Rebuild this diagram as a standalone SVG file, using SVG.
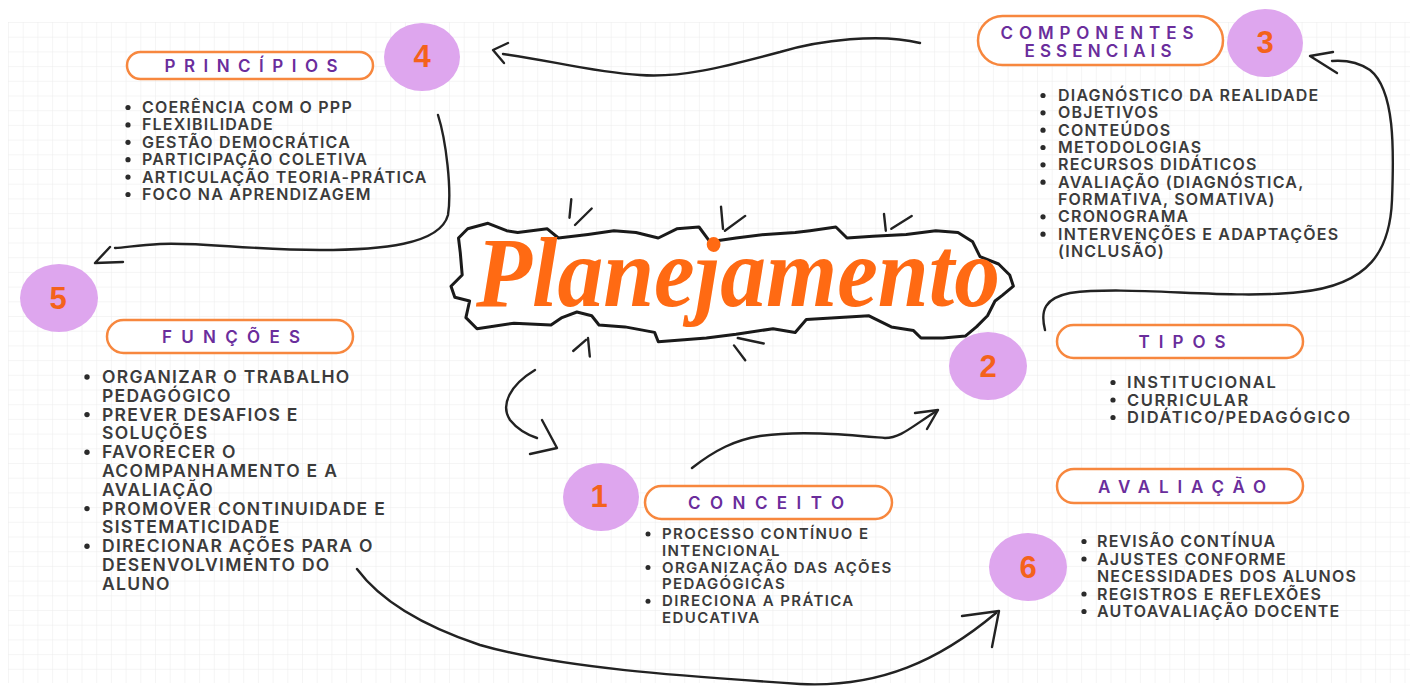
<svg xmlns="http://www.w3.org/2000/svg" width="1421" height="691" viewBox="0 0 1421 691">
<style>
.num{font-family:"Liberation Sans",Arial,sans-serif;font-size:31px;font-weight:bold;fill:#f4621b;text-anchor:middle}
.pill{fill:#fff;stroke:#f7873e;stroke-width:2.5}
.head{font-family:Inter,"DejaVu Sans",sans-serif;font-weight:600;font-size:17px;fill:#6a2d9c;text-anchor:middle}
.li{font-family:Inter,"DejaVu Sans",sans-serif;font-weight:600;font-size:16px;fill:#3b3b3b;letter-spacing:1.2px}
.dot{fill:#2b2b2b}
.circ{fill:#dea6ee}
.con{fill:none;stroke:#222;stroke-width:2.4;stroke-linecap:round;stroke-linejoin:round}
</style>
<defs>
<pattern id="grid" x="8" y="22" width="14.7" height="14.7" patternUnits="userSpaceOnUse">
<path d="M14.7 0H0V14.7" fill="none" stroke="#ebebeb" stroke-width="1"/>
</pattern>
</defs>
<rect width="1421" height="691" fill="#fff"/>
<rect x="8" y="22" width="1402" height="661" fill="url(#grid)"/>

<g id="title">
<path d="M458.5,238 L467.7,228.8 L488,223.3 L506.6,230.7 L517.7,232.5 L547.3,228.8 L558.4,238 L588,234.4 L613.9,230.7 L636,232.5 L658.3,238 L676.8,228.8 L699,227 L710,241.8 L736,238 L765.6,234.4 L795.2,232.5 L810,230.7 L835.9,227 L847,238 L872.9,236.2 L906.2,234.4 L935.7,230.7 L958,232.5 L972.7,241.8 L980,256.6 L998.6,264 L1009.7,275 L1013.4,286.2 L1002.3,295.4 L995,301 L987.5,315.8 L976.4,326.9 L965.3,336.1 L943,338 L921,338 L913.5,330.6 L891.3,326.9 L869,315.8 L839.6,317.6 L806.3,319.5 L795.2,332.4 L773,328.7 L736,334.3 L706.4,338 L684.2,339.8 L658.3,341.7 L654.6,332.4 L625,326.9 L599,325 L591.7,315.8 L576.9,312 L562,317.6 L551,325 L514,323.2 L477,328.7 L465.9,317.6 L469.6,301 L454.8,297.3 L451,286.2 L462.2,275 L460.3,252.9 Z" fill="#fff" stroke="#1a1a1a" stroke-width="3" stroke-linejoin="round"/>
<g class="con">
<path d="M571.3,199.2 L569.5,217.7 M575,225 L591.7,208.5"/>
<path d="M721,206.6 L723,228.8 M724.9,230.7 L745.2,215.9"/>
<path d="M884,214 L885.8,230.7 M891.3,228.8 L911.7,215.9"/>
<path d="M588,338 L589.8,356.5 M573.2,351 L586,339.8"/>
<path d="M737.8,338 L763.7,343.5 M734,345.4 L745.2,360.2"/>
</g>
<text x="476" y="306" font-family="'Liberation Serif','DejaVu Serif',serif" font-weight="bold" font-style="italic" font-size="100" fill="#ff6a13" textLength="524" lengthAdjust="spacingAndGlyphs">Planejamento</text>
</g>

<g id="connectors">
<path class="con" d="M920,43 C880,33 820,40 780,52 C720,68 680,78 640,75 C590,72 550,60 503,54"/>
<path class="con" d="M508,43 L493,50 L504,63"/>
<path class="con" d="M438,115 C446,140 452,190 448,215 C440,245 380,250 320,250 C250,250 200,242 160,244 C140,245 128,247 115,248"/>
<path class="con" d="M110,247 L95,263 L123,262"/>
<path class="con" d="M1045,330 C1040,310 1045,298 1070,293 C1130,285 1230,300 1300,292 C1370,285 1390,250 1392,200 C1394,150 1395,90 1370,70 C1358,62 1345,60 1332,61"/>
<path class="con" d="M1333,52 L1310,56 L1337,73"/>
<path class="con" d="M535,370 C510,385 500,405 510,420 C518,430 528,435 537,438"/>
<path class="con" d="M542,420 L557,448 L530,454"/>
<path class="con" d="M692,468 C715,450 735,440 760,436 C800,430 850,435 885,438 C900,438 910,428 935,412"/>
<path class="con" d="M915,413 L938,410 L927,429"/>
<path class="con" d="M357,569 C380,600 420,625 480,645 C560,668 680,676 800,684 C880,688 940,660 996,613"/>
<path class="con" d="M962,616 L999,611 L992,647"/>
</g>

<g id="node-4-principios">
<ellipse class="circ" cx="422" cy="57" rx="38" ry="34"/>
<text class="num" x="422" y="67">4</text>
<rect class="pill" x="127" y="52" width="246" height="27" rx="13.5"/>
<text class="head" x="251" y="72" font-size="18" textLength="173">PRINCÍPIOS</text>
<g class="dot"><circle cx="128" cy="107.5" r="2.6"/><circle cx="128" cy="124.9" r="2.6"/><circle cx="128" cy="142.3" r="2.6"/><circle cx="128" cy="159.7" r="2.6"/><circle cx="128" cy="177.1" r="2.6"/><circle cx="128" cy="194.5" r="2.6"/></g>
<text class="li" x="142" y="113">COERÊNCIA COM O PPP</text>
<text class="li" x="142" y="130.4">FLEXIBILIDADE</text>
<text class="li" x="142" y="147.8">GESTÃO DEMOCRÁTICA</text>
<text class="li" x="142" y="165.2">PARTICIPAÇÃO COLETIVA</text>
<text class="li" x="142" y="182.6">ARTICULAÇÃO TEORIA-PRÁTICA</text>
<text class="li" x="142" y="200">FOCO NA APRENDIZAGEM</text>
</g>

<g id="node-3-componentes">
<ellipse class="circ" cx="1265" cy="43" rx="38" ry="34"/>
<text class="num" x="1265" y="53">3</text>
<rect class="pill" x="978" y="16" width="245" height="49" rx="24.5"/>
<text class="head" x="1097" y="38.5" font-size="14" textLength="193">COMPONENTES</text>
<text class="head" x="1098" y="56.5" font-size="14" textLength="147">ESSENCIAIS</text>
<g class="dot"><circle cx="1043" cy="95.5" r="2.6"/><circle cx="1043" cy="112.8" r="2.6"/><circle cx="1043" cy="130.2" r="2.6"/><circle cx="1043" cy="147.5" r="2.6"/><circle cx="1043" cy="164.8" r="2.6"/><circle cx="1043" cy="182.2" r="2.6"/><circle cx="1043" cy="216.8" r="2.6"/><circle cx="1043" cy="234.2" r="2.6"/></g>
<text class="li" x="1058" y="101">DIAGNÓSTICO DA REALIDADE</text>
<text class="li" x="1058" y="118.3">OBJETIVOS</text>
<text class="li" x="1058" y="135.7">CONTEÚDOS</text>
<text class="li" x="1058" y="153">METODOLOGIAS</text>
<text class="li" x="1058" y="170.3">RECURSOS DIDÁTICOS</text>
<text class="li" x="1058" y="187.7">AVALIAÇÃO (DIAGNÓSTICA,</text>
<text class="li" x="1058" y="205">FORMATIVA, SOMATIVA)</text>
<text class="li" x="1058" y="222.3">CRONOGRAMA</text>
<text class="li" x="1058" y="239.7">INTERVENÇÕES E ADAPTAÇÕES</text>
<text class="li" x="1058" y="257">(INCLUSÃO)</text>
</g>

<g id="node-5-funcoes">
<ellipse class="circ" cx="59" cy="298" rx="39" ry="34"/>
<text class="num" x="58" y="309" font-family="'Liberation Serif',serif">5</text>
<rect class="pill" x="107" y="320" width="246" height="33" rx="16.5"/>
<text class="head" x="231" y="343" textLength="138">FUNÇÕES</text>
<g class="dot"><circle cx="87" cy="377" r="2.7"/><circle cx="87" cy="414.6" r="2.7"/><circle cx="87" cy="452.2" r="2.7"/><circle cx="87" cy="508.6" r="2.7"/><circle cx="87" cy="546.2" r="2.7"/></g>
<g class="li" style="font-size:17.5px;letter-spacing:1.3px">
<text x="102" y="383">ORGANIZAR O TRABALHO</text>
<text x="102" y="401.8">PEDAGÓGICO</text>
<text x="102" y="420.6">PREVER DESAFIOS E</text>
<text x="102" y="439.4">SOLUÇÕES</text>
<text x="102" y="458.2">FAVORECER O</text>
<text x="102" y="477">ACOMPANHAMENTO E A</text>
<text x="102" y="495.8">AVALIAÇÃO</text>
<text x="102" y="514.6">PROMOVER CONTINUIDADE E</text>
<text x="102" y="533.4">SISTEMATICIDADE</text>
<text x="102" y="552.2">DIRECIONAR AÇÕES PARA O</text>
<text x="102" y="571">DESENVOLVIMENTO DO</text>
<text x="102" y="589.8">ALUNO</text>
</g>
</g>

<g id="node-1-conceito">
<ellipse class="circ" cx="601" cy="497" rx="38" ry="34"/>
<text class="num" x="599" y="507">1</text>
<rect class="pill" x="645" y="486" width="247" height="33" rx="16.5"/>
<text class="head" x="766" y="509" textLength="156">CONCEITO</text>
<g class="dot"><circle cx="648" cy="534" r="2.5"/><circle cx="648" cy="567.6" r="2.5"/><circle cx="648" cy="601.2" r="2.5"/></g>
<g class="li" style="font-size:15px;letter-spacing:1.4px">
<text x="662" y="539">PROCESSO CONTÍNUO E</text>
<text x="662" y="555.8">INTENCIONAL</text>
<text x="662" y="572.6">ORGANIZAÇÃO DAS AÇÕES</text>
<text x="662" y="589.4">PEDAGÓGICAS</text>
<text x="662" y="606.2">DIRECIONA A PRÁTICA</text>
<text x="662" y="623">EDUCATIVA</text>
</g>
</g>

<g id="node-2-tipos">
<ellipse class="circ" cx="988" cy="366" rx="39" ry="34"/>
<text class="num" x="988" y="377">2</text>
<rect class="pill" x="1057" y="325" width="246" height="33" rx="16.5"/>
<text class="head" x="1182" y="348" textLength="87">TIPOS</text>
<g class="dot"><circle cx="1113" cy="382.5" r="2.6"/><circle cx="1113" cy="400" r="2.6"/><circle cx="1113" cy="417.5" r="2.6"/></g>
<g class="li" style="font-size:16.5px;letter-spacing:1.6px">
<text x="1127" y="388">INSTITUCIONAL</text>
<text x="1127" y="405.5">CURRICULAR</text>
<text x="1127" y="423">DIDÁTICO/PEDAGÓGICO</text>
</g>
</g>

<g id="node-6-avaliacao">
<ellipse class="circ" cx="1028" cy="567" rx="39" ry="34"/>
<text class="num" x="1028" y="578">6</text>
<rect class="pill" x="1057" y="469" width="246" height="34" rx="17"/>
<text class="head" x="1182" y="493" textLength="168">AVALIAÇÃO</text>
<g class="dot"><circle cx="1084" cy="541.5" r="2.6"/><circle cx="1084" cy="559" r="2.6"/><circle cx="1084" cy="594" r="2.6"/><circle cx="1084" cy="611.5" r="2.6"/></g>
<text class="li" x="1097" y="547">REVISÃO CONTÍNUA</text>
<text class="li" x="1097" y="564.5">AJUSTES CONFORME</text>
<text class="li" x="1097" y="582">NECESSIDADES DOS ALUNOS</text>
<text class="li" x="1097" y="599.5">REGISTROS E REFLEXÕES</text>
<text class="li" x="1097" y="617">AUTOAVALIAÇÃO DOCENTE</text>
</g>
</svg>
